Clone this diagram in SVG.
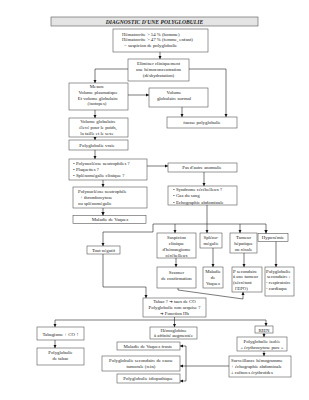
<svg xmlns="http://www.w3.org/2000/svg" width="309" height="400" viewBox="0 0 309 400">
<style>
rect{fill:#fff;stroke:#555;stroke-width:0.6}
text{font-family:"Liberation Serif","Times New Roman",serif;font-size:4.8px;fill:#222}
.m{text-anchor:middle}
.title{font-weight:bold;font-style:italic;font-size:5.6px;text-anchor:middle}
.c path{fill:none;stroke:#222;stroke-width:0.6}
.ar{font-family:"DejaVu Sans",sans-serif;font-size:4.2px}
</style>
<defs>
<marker id="a" viewBox="0 0 6 6" refX="6" refY="3" markerWidth="3.4" markerHeight="3.4" markerUnits="userSpaceOnUse" orient="auto"><path d="M0,0L6,3L0,6z" fill="#111"/></marker>
</defs>
<rect width="309" height="400" style="fill:#fff;stroke:none"/>
<g id="title"><rect x="51" y="17" width="207" height="9" style="fill:#e4e4e4"/><text class="title" x="154.5" y="23.8">DIAGNOSTIC D'UNE POLYGLOBULIE</text></g>
<g id="n1"><rect x="113" y="29" width="95" height="23"/><text x="122" y="35.5">Hématocrite &gt; 54 % (homme)</text><text x="122" y="41">Hématocrite &gt; 47 % (femme, enfant)</text><text x="124" y="46.5">= suspicion de polyglobulie</text></g>
<g id="n2"><rect x="128" y="59" width="61" height="22"/><text class="m" x="158.5" y="65">Eliminer cliniquement</text><text class="m" x="158.5" y="71">une hémoconcentration</text><text class="m" x="158.5" y="77">(déshydratation)</text></g>
<g id="n3"><rect x="69" y="83" width="59" height="27"/><text class="m" x="97" y="88">Mesure</text><text class="m" x="98" y="94">Volume plasmatique</text><text class="m" x="98" y="99.5">Et volume globulaire</text><text class="m" x="97" y="105">(isotopes)</text></g>
<g id="n4"><rect x="149" y="88" width="59" height="19"/><text class="m" x="174" y="94">Volume</text><text class="m" x="174" y="100">globulaire normal</text></g>
<g id="n5"><rect x="167" y="117" width="70" height="11"/><text class="m" x="202" y="124.3">fausse polyglobulie</text></g>
<g id="n6"><rect x="69" y="118" width="59" height="19"/><text class="m" x="98" y="122.5">Volume globulaire</text><text class="m" x="98" y="128.5">élevé pour le poids,</text><text class="m" x="97" y="134.5">la taille et le sexe</text></g>
<g id="n7"><rect x="69" y="140" width="59" height="10"/><text class="m" x="97" y="146.5">Polyglobulie vraie</text></g>
<g id="n8"><rect x="69" y="159" width="78" height="21"/><text x="73" y="164.5">• Polynucléose neutrophiles ?</text><text x="73" y="170.5">• Plaquettes ?</text><text x="73" y="176.5">• Splénomégalie clinique ?</text></g>
<g id="n9"><rect x="168" y="163" width="69" height="9"/><text class="m" x="202" y="169.3">Pas d'autre anomalie</text></g>
<g id="n10"><rect x="73" y="187" width="74" height="21"/><text x="78" y="192.5">Polynucléose neutrophile</text><text x="80" y="198.5">+ thrombocytose</text><text x="78" y="204.5">ou splénomégalie</text></g>
<g id="n11"><rect x="73" y="215.5" width="73" height="8"/><text class="m" x="110" y="221.3">Maladie de Vaquez</text></g>
<g id="n12"><rect x="168" y="186" width="69" height="19"/><text x="173" y="191">• Syndrome cérébelleux ?</text><text x="173" y="197">• Gaz du sang</text><text x="173" y="203.5">• Echographie abdominale</text></g>
<g id="n13"><rect x="87" y="246" width="33" height="8"/><text class="m" x="103.5" y="251.8">Tout négatif</text></g>
<g id="n14"><rect x="157" y="233" width="39" height="25"/><text class="m" x="176.5" y="238.5">Suspicion</text><text class="m" x="176.5" y="244.5">clinique</text><text class="m" x="176.5" y="250.5">d'hémangiome</text><text class="m" x="176.5" y="256.5">cérébelleux</text></g>
<g id="n15"><rect x="200" y="233" width="22" height="15"/><text class="m" x="211" y="238.5">Spléno-</text><text class="m" x="211" y="244.5">mégalie</text></g>
<g id="n16"><rect x="230" y="233" width="27" height="20"/><text class="m" x="243.5" y="238.5">Tumeur</text><text class="m" x="243.5" y="244.5">hépatique</text><text class="m" x="243.5" y="250.5">ou rénale</text></g>
<g id="n17"><rect x="258" y="233.5" width="30" height="8"/><text class="m" x="273" y="239.3">Hypoxémie</text></g>
<g id="n18"><rect x="157" y="267" width="39" height="21"/><text class="m" x="176.5" y="273.5">Scanner</text><text class="m" x="176.5" y="279.5">de confirmation</text></g>
<g id="n19"><rect x="203" y="267" width="20" height="21"/><text class="m" x="213" y="273">Maladie</text><text class="m" x="213" y="279">de</text><text class="m" x="213" y="285">Vaquez</text></g>
<g id="n20"><rect x="232" y="267" width="30" height="25"/><text x="233" y="272.5">P secondaire</text><text x="233" y="278">à une tumeur</text><text x="233" y="283.5">(sécrétant</text><text x="235" y="289.5">l'EPO)</text></g>
<g id="n21"><rect x="265" y="267" width="29" height="29"/><text x="266" y="272.5">Polyglobulie</text><text x="267" y="278">secondaire :</text><text x="266" y="283.5">- respiratoire</text><text x="266" y="289.5">- cardiaque</text></g>
<g id="n22"><rect x="143" y="298" width="63" height="19"/><text class="m" x="174.5" y="302.5">Tabac ? <tspan class="ar">➔</tspan> taux de CO</text><text class="m" x="174.5" y="308.5">Polyglobulie non acquise ?</text><text class="m" x="174.5" y="314.5"><tspan class="ar">➔</tspan> Fonction Hb</text></g>
<g id="n23"><rect x="37" y="327" width="47" height="13"/><text class="m" x="60.5" y="336">Tabagisme + CO <tspan font-weight="bold">↑</tspan></text></g>
<g id="n24"><rect x="37" y="348" width="47" height="17"/><text class="m" x="60.5" y="353.5">Polyglobulie</text><text class="m" x="60.5" y="359.5">de tabac</text></g>
<g id="n25"><rect x="150" y="327" width="47" height="12"/><text class="m" x="173.5" y="331.8">Hémoglobine</text><text class="m" x="173.5" y="337.3">à affinité augmentée</text></g>
<g id="n26"><rect x="117" y="342" width="63" height="8"/><text class="m" x="148" y="347.8">Maladie de Vaquez fruste</text></g>
<g id="n27"><rect x="102" y="356" width="78" height="15"/><text class="m" x="141" y="361.5">Polyglobulie secondaire de cause</text><text class="m" x="141" y="367.5">tumorale (rein)</text></g>
<g id="n28"><rect x="117" y="374" width="63" height="9"/><text class="m" x="148" y="380">Polyglobulie idiopathique</text></g>
<g id="n29"><rect x="255" y="326" width="18" height="7"/><text class="m" x="264" y="331.6">RIEN</text></g>
<g id="n30"><rect x="237" y="337" width="50" height="14"/><text class="m" x="262" y="342.5">Polyglobulie isolée</text><text class="m" x="262" y="348.5">« érythrocytose pure »</text></g>
<g id="n31"><rect x="229" y="356" width="62" height="21"/><text x="231" y="361.5">Surveillance hémogramme</text><text x="231" y="367.5">+ échographie abdominale</text><text x="231" y="373.5">± cultures érythroïdes</text></g>
<g id="connectors" class="c">
<path d="M160,52V59" marker-end="url(#a)"/>
<path d="M128,69H95V83" marker-end="url(#a)"/>
<path d="M189,69H226V117" marker-end="url(#a)"/>
<path d="M128,95H149" marker-end="url(#a)"/>
<path d="M182,107V117" marker-end="url(#a)"/>
<path d="M95,110V118" marker-end="url(#a)"/>
<path d="M95,137V140" marker-end="url(#a)"/>
<path d="M95,150V159" marker-end="url(#a)"/>
<path d="M147,166H168" marker-end="url(#a)"/>
<path d="M103,180V187" marker-end="url(#a)"/>
<path d="M103,208V215.5" marker-end="url(#a)"/>
<path d="M204,172V186" marker-end="url(#a)"/>
<path d="M207,205V233" marker-end="url(#a)"/>
<path d="M266,224H153V232H103V246" marker-end="url(#a)"/>
<path d="M175,224V233" marker-end="url(#a)"/>
<path d="M240,224V233" marker-end="url(#a)"/>
<path d="M266,224V233.5" marker-end="url(#a)"/>
<path d="M176,258V267" marker-end="url(#a)"/>
<path d="M213,248V267" marker-end="url(#a)"/>
<path d="M244,253V267" marker-end="url(#a)"/>
<path d="M276,241.5V267" marker-end="url(#a)"/>
<path d="M178,288V290L243,299V292" marker-end="url(#a)"/>
<path d="M103,254V287H146V298" marker-end="url(#a)"/>
<path d="M174.5,317V327" marker-end="url(#a)"/>
<path d="M55,320H266V326" marker-end="url(#a)"/>
<path d="M55,320V327" marker-end="url(#a)"/>
<path d="M55,340V348" marker-end="url(#a)"/>
<path d="M264,333V337" marker-end="url(#a)"/>
<path d="M264,351V356" marker-end="url(#a)"/>
<path d="M229,366H180" marker-end="url(#a)"/>
<path d="M186,346V381"/>
<path d="M186,346H180" marker-end="url(#a)"/>
<path d="M186,381H180" marker-end="url(#a)"/>
</g>
</svg>
